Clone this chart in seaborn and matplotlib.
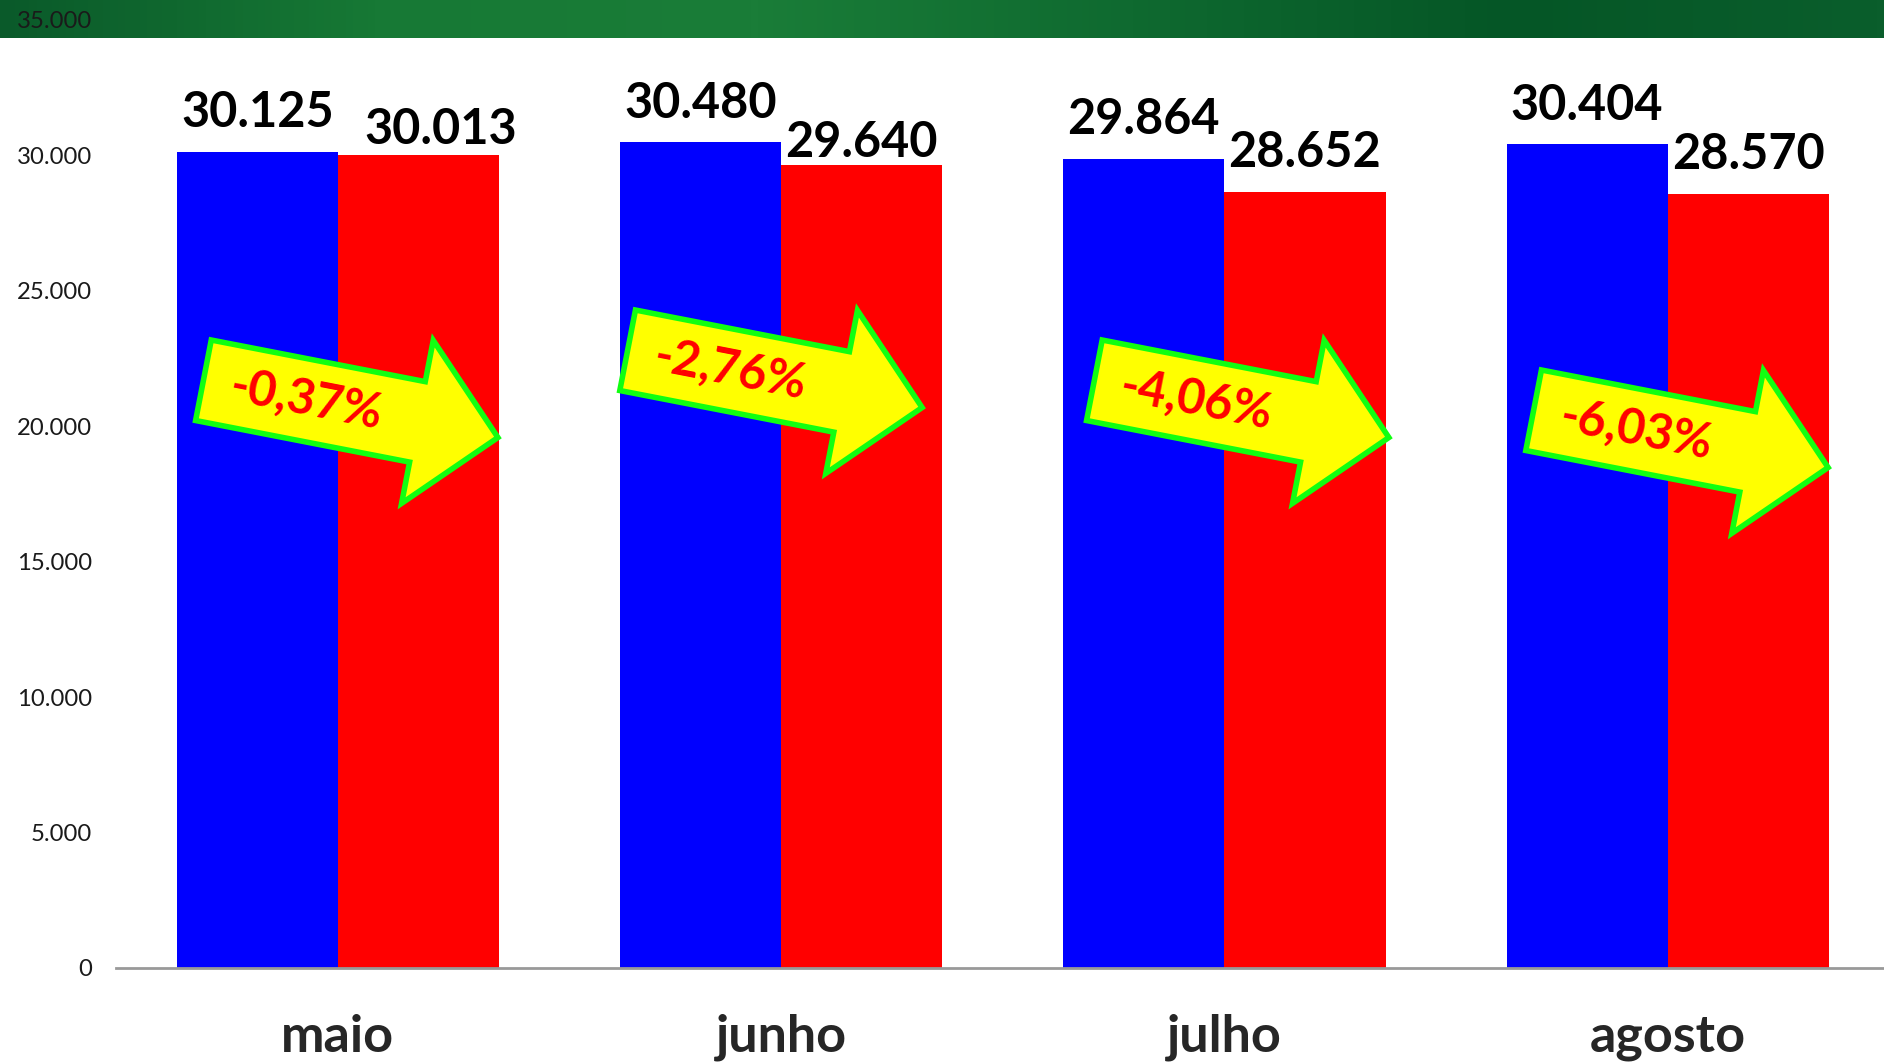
import numpy as np
import pandas as pd
import matplotlib
matplotlib.use("Agg")
import matplotlib.pyplot as plt
import matplotlib.transforms as mtransforms
from matplotlib.patches import Polygon
from matplotlib.ticker import FuncFormatter
import seaborn as sns

# dados
meses = ["maio", "junho", "julho", "agosto"]
anterior = [30125, 30480, 29864, 30404]
atual = [30013, 29640, 28652, 28570]
yticks = [0, 5000, 10000, 15000, 20000, 25000, 30000, 35000]

# posicao das setas (deslocamento x em relacao ao mes, valor y)
seta_dx = [0.031, -0.012, 0.041, 0.032]
seta_y = [20635, 21742, 20635, 19528]

# deslocamento manual dos rotulos da serie atual (pontos)
rot_atual_dx = [16, 0, 0, 0]
rot_atual_dy = [-10, -12, 0, 0]

df = pd.DataFrame({
    "mes": meses * 2,
    "valor": anterior + atual,
    "serie": ["anterior"] * 4 + ["atual"] * 4,
})

def fmt_milhar(v):
    return f"{int(v):,}".replace(",", ".")

sns.set_style("white")
plt.rcParams["font.family"] = ["Lato", "DejaVu Sans"]

fig = plt.figure(figsize=(18.84, 10.62), dpi=100)

# faixa verde no topo
banner = fig.add_axes([0, 1 - 38 / 1062, 1, 38 / 1062])
grad = np.linspace(0, 1, 256)
cmap = matplotlib.colors.LinearSegmentedColormap.from_list(
    "verde", ["#0a5a2a", "#177935", "#1a7d38", "#0f6a30", "#055626", "#0a5e2c"])
banner.imshow(grad[None, :], aspect="auto", cmap=cmap, extent=[0, 1, 0, 1])
banner.axis("off")
banner.set_zorder(0)

ax = fig.add_axes([116.3 / 1884, 94 / 1062, 1773 / 1884, 948 / 1062])
ax.set_zorder(1)
ax.patch.set_visible(False)

sns.barplot(data=df, x="mes", y="valor", hue="serie", palette=["#0000ff", "#ff0000"],
            width=0.727, saturation=1, linewidth=0, legend=False, ax=ax)

ax.set_xlim(-0.5, 3.5)
ax.set_ylim(0, 35000)
ax.set_yticks(yticks)
ax.yaxis.set_major_formatter(FuncFormatter(lambda v, p: fmt_milhar(v)))
ax.tick_params(axis="y", length=0, pad=17.5, labelsize=17.2, labelcolor="#1a1a1a")
ax.tick_params(axis="x", length=0, pad=33, labelsize=37.5)
for lab in ax.get_xticklabels():
    lab.set_fontweight("bold")
ax.set_xlabel("")
ax.set_ylabel("")
for s in ["top", "left", "right"]:
    ax.spines[s].set_visible(False)
ax.spines["bottom"].set_color("#999999")
ax.spines["bottom"].set_linewidth(2)

for k, cont in enumerate(ax.containers):
    anns = ax.bar_label(cont, labels=[fmt_milhar(b.get_height()) for b in cont],
                        padding=12, fontsize=35, fontweight="bold", color="black")
    if k == 1:
        for j, ann in enumerate(anns):
            ann.xyann = (rot_atual_dx[j], 12 + rot_atual_dy[j])

# setas com variacao percentual
verts = [(-151, 41), (67, 41), (67, 83), (149, 0), (67, -83), (67, -41), (-151, -41)]
for i, (a, b) in enumerate(zip(anterior, atual)):
    var = (b - a) / a * 100
    txt = f"{var:.2f}%".replace(".", ",")
    base = mtransforms.ScaledTranslation(i + seta_dx[i], seta_y[i], ax.transData)
    rot = mtransforms.Affine2D().rotate_deg(-11)
    poly = Polygon(verts, closed=True, facecolor="#ffff00", edgecolor="#11ff11",
                   linewidth=4, transform=rot + base, zorder=5)
    ax.add_patch(poly)
    ax.text(0, 0, txt, transform=mtransforms.Affine2D().translate(-47, 0) + rot + base,
            rotation=-11, rotation_mode="anchor", ha="center", va="center",
            fontsize=35, fontweight="bold", color="#ff0000", zorder=6)

fig.savefig("out.png", dpi=100)
